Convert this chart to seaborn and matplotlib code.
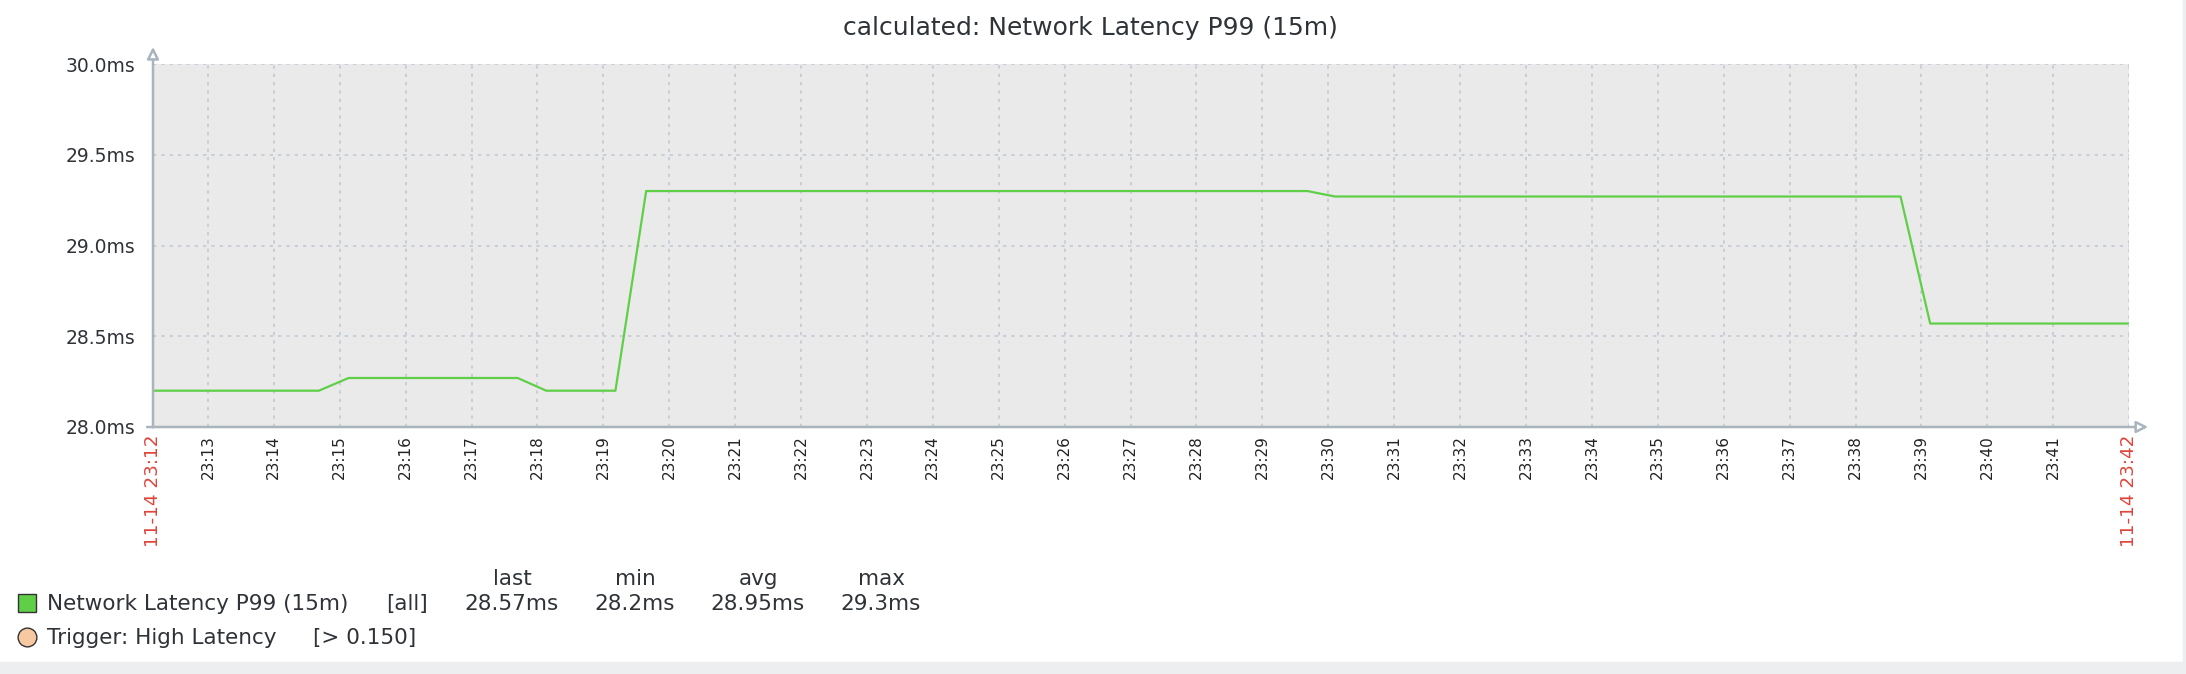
import numpy as np
import pandas as pd
import matplotlib
matplotlib.use("Agg")
import matplotlib.pyplot as plt
import matplotlib.dates as mdates
import matplotlib.transforms as mtransforms
from matplotlib.lines import Line2D
from matplotlib.patches import Rectangle
import seaborn as sns

# ── Data ──────────────────────────────────────────────────────────────────────
times = ["23:12:10", "23:14:41", "23:15:08", "23:17:42", "23:18:08", "23:19:11",
         "23:19:39", "23:29:41", "23:30:06", "23:38:41", "23:39:08", "23:42:09"]
latency_ms = [28.2, 28.2, 28.27, 28.27, 28.2, 28.2,
              29.3, 29.3, 29.27, 29.27, 28.57, 28.57]
y_ticks = [28.0, 28.5, 29.0, 29.5, 30.0]
stat_names = ["last", "min", "avg", "max"]
stat_values = ["28.57ms", "28.2ms", "28.95ms", "29.3ms"]
series_name = "Network Latency P99 (15m)"
trigger_name = "Trigger: High Latency"
trigger_rule = "[> 0.150]"
start_label = "11-14 23:12"
end_label = "11-14 23:42"

df = pd.DataFrame({
    "time": pd.to_datetime(["2024-11-14 " + t for t in times]),
    "latency": latency_ms,
})
t_start, t_end = df["time"].iloc[0], df["time"].iloc[-1]

# minute ticks, skipping any too close to the red start/end labels
minute_ticks = [t for t in pd.date_range(t_start.ceil("min"), t_end, freq="min")
                if (t_end - t).total_seconds() > 30
                and (t - t_start).total_seconds() > 30]

# ── Style ─────────────────────────────────────────────────────────────────────
W, H = 2186, 674
sns.set_style("white", {"axes.facecolor": "#eaeaea"})
plt.rcParams["font.family"] = ["DejaVu Sans"]
TEXT = "#2f3338"
AXIS = "#a9b4bd"
GRID = "#c3cad2"
GREEN = "#5fcf47"


def fx(x):
    return x / W


def fy(y):
    return 1 - y / H


fig = plt.figure(figsize=(W / 100, H / 100), dpi=100)
ax = fig.add_axes([fx(153), fy(427), fx(2129) - fx(153), fy(64) - fy(427)])

sns.lineplot(data=df, x="time", y="latency", ax=ax, color=GREEN, lw=1.6)

ax.set_xlim(t_start, t_end)
ax.set_ylim(y_ticks[0], y_ticks[-1])
ax.set_yticks(y_ticks)
ax.set_yticklabels([f"{v:.1f}ms" for v in y_ticks])
ax.set_xticks(minute_ticks)
ax.xaxis.set_major_formatter(mdates.DateFormatter("%H:%M"))
ax.set_xlabel("")
ax.set_ylabel("")

ax.grid(True, color=GRID, linestyle=(0, (2, 3)), linewidth=1.2)
ax.axvline(t_end, color=GRID, linestyle=(0, (2, 3)), linewidth=1.2)
for s in ["top", "right", "left", "bottom"]:
    ax.spines[s].set_visible(False)

ax.tick_params(axis="y", length=0, pad=13, labelsize=13.5, labelcolor=TEXT)
ax.tick_params(axis="x", length=0, pad=6, labelsize=11, labelcolor="#222222",
               labelrotation=90)

# axis lines with hollow arrowheads
arrow = dict(arrowstyle="-|>,head_length=0.7,head_width=0.35", fc="white",
             ec=AXIS, lw=1.8, shrinkA=0, shrinkB=0)
ax.annotate("", xy=(0, 1.047), xytext=(0, -0.001), xycoords="axes fraction",
            arrowprops=arrow, annotation_clip=False)
ax.annotate("", xy=(1.0097, 0), xytext=(-0.003, 0), xycoords="axes fraction",
            arrowprops=arrow, annotation_clip=False)

# start/end time labels in red
trans = mtransforms.blended_transform_factory(ax.transData, ax.transAxes)
for t, lab in [(t_start, start_label), (t_end, end_label)]:
    ax.text(t, -0.022, lab, transform=trans, rotation=90, ha="center",
            va="top", fontsize=13.2, color="#e0443a")

fig.suptitle("calculated: " + series_name, x=fx(1090), y=fy(16),
             fontsize=18, color=TEXT, va="top")

# ── Legend block ─────────────────────────────────────────────────────────────
fig.add_artist(Line2D([fx(26.5)], [fy(603)], marker="s", ms=13.5,
                      mfc=GREEN, mec="#333333", mew=1.0,
                      transform=fig.transFigure))
fig.add_artist(Line2D([fx(26.5)], [fy(637)], marker="o", ms=13.5,
                      mfc="#f6c9a2", mec="#333333", mew=1.0,
                      transform=fig.transFigure))
fig.text(fx(47), fy(604), series_name, fontsize=15.5, color=TEXT, va="center")
fig.text(fx(407), fy(604), "[all]", fontsize=15.5, color=TEXT,
         va="center", ha="center")
fig.text(fx(47), fy(638), trigger_name, fontsize=15.5, color=TEXT, va="center")
fig.text(fx(313), fy(638), trigger_rule, fontsize=15.5, color=TEXT, va="center")

stat_x = [512, 635, 758, 881]
for x, name, val in zip(stat_x, stat_names, stat_values):
    fig.text(fx(x), fy(579), name, fontsize=15.5, color=TEXT,
             ha="center", va="center")
    fig.text(fx(x), fy(604), val, fontsize=15.5, color=TEXT,
             ha="center", va="center")

# light frame strips at bottom and right
fig.add_artist(Rectangle((0, 0), 1, fy(662), transform=fig.transFigure,
                         color="#eceef0", zorder=-1))
fig.add_artist(Rectangle((fx(2183), 0), 1 - fx(2183), 1,
                         transform=fig.transFigure, color="#eceef0", zorder=-1))

fig.savefig("out.png", dpi=100)
plt.close(fig)
